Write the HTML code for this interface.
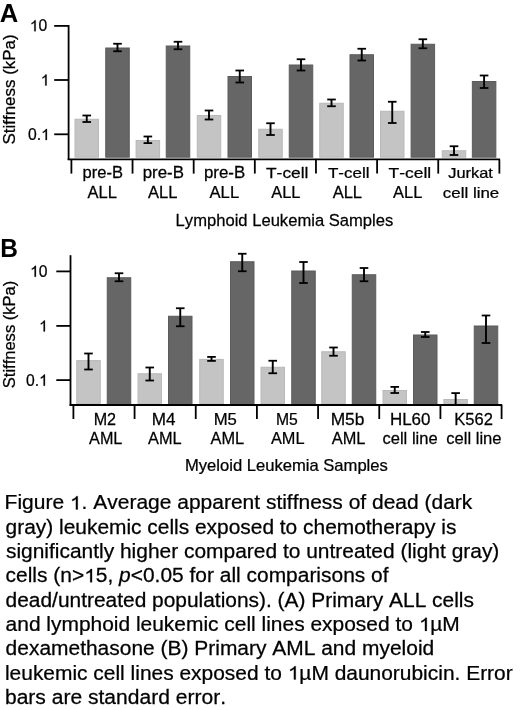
<!DOCTYPE html>
<html><head><meta charset="utf-8"><style>
html,body{margin:0;padding:0;background:#fff;}
svg{display:block;will-change:transform;}
text{font-family:"Liberation Sans",sans-serif;fill:#000;stroke:#000;stroke-width:0.25px;font-kerning:none;}
.h{fill-opacity:0;stroke-opacity:0;}
</style></head><body>
<svg width="520" height="710" viewBox="0 0 520 710">
<defs><path id="one" d="M763 0H583V1102Q518 1043 412 983Q307 923 223 894V1061Q374 1129 480 1220Q587 1311 633 1409H763Z" fill="#000" stroke="#000" stroke-width="0.25" vector-effect="non-scaling-stroke"/></defs>
<rect x="75.00" y="119.25" width="23.50" height="37.95" fill="#c4c4c4" stroke="#b9b9b9" stroke-width="1"/>
<rect x="105.75" y="48.00" width="23.50" height="109.20" fill="#666666" stroke="#5b5b5b" stroke-width="1"/>
<rect x="136.10" y="140.50" width="23.50" height="16.70" fill="#c4c4c4" stroke="#b9b9b9" stroke-width="1"/>
<rect x="166.25" y="46.00" width="23.50" height="111.20" fill="#666666" stroke="#5b5b5b" stroke-width="1"/>
<rect x="197.25" y="115.50" width="23.50" height="41.70" fill="#c4c4c4" stroke="#b9b9b9" stroke-width="1"/>
<rect x="228.00" y="76.50" width="23.50" height="80.70" fill="#666666" stroke="#5b5b5b" stroke-width="1"/>
<rect x="258.75" y="129.25" width="23.50" height="27.95" fill="#c4c4c4" stroke="#b9b9b9" stroke-width="1"/>
<rect x="289.25" y="65.00" width="23.50" height="92.20" fill="#666666" stroke="#5b5b5b" stroke-width="1"/>
<rect x="319.75" y="103.25" width="23.50" height="53.95" fill="#c4c4c4" stroke="#b9b9b9" stroke-width="1"/>
<rect x="350.00" y="54.75" width="23.50" height="102.45" fill="#666666" stroke="#5b5b5b" stroke-width="1"/>
<rect x="380.50" y="111.25" width="23.50" height="45.95" fill="#c4c4c4" stroke="#b9b9b9" stroke-width="1"/>
<rect x="411.10" y="44.25" width="23.50" height="112.95" fill="#666666" stroke="#5b5b5b" stroke-width="1"/>
<rect x="442.25" y="150.75" width="23.50" height="6.45" fill="#c4c4c4" stroke="#b9b9b9" stroke-width="1"/>
<rect x="472.35" y="81.50" width="23.50" height="75.70" fill="#666666" stroke="#5b5b5b" stroke-width="1"/>
<line x1="86.75" y1="115.50" x2="86.75" y2="122.00" stroke="#000" stroke-width="1.9"/>
<line x1="82.45" y1="115.50" x2="91.05" y2="115.50" stroke="#000" stroke-width="1.8"/>
<line x1="82.45" y1="122.00" x2="91.05" y2="122.00" stroke="#000" stroke-width="1.8"/>
<line x1="117.50" y1="43.75" x2="117.50" y2="51.25" stroke="#000" stroke-width="1.9"/>
<line x1="113.20" y1="43.75" x2="121.80" y2="43.75" stroke="#000" stroke-width="1.8"/>
<line x1="113.20" y1="51.25" x2="121.80" y2="51.25" stroke="#000" stroke-width="1.8"/>
<line x1="147.85" y1="136.50" x2="147.85" y2="143.10" stroke="#000" stroke-width="1.9"/>
<line x1="143.55" y1="136.50" x2="152.15" y2="136.50" stroke="#000" stroke-width="1.8"/>
<line x1="143.55" y1="143.10" x2="152.15" y2="143.10" stroke="#000" stroke-width="1.8"/>
<line x1="178.00" y1="41.75" x2="178.00" y2="49.25" stroke="#000" stroke-width="1.9"/>
<line x1="173.70" y1="41.75" x2="182.30" y2="41.75" stroke="#000" stroke-width="1.8"/>
<line x1="173.70" y1="49.25" x2="182.30" y2="49.25" stroke="#000" stroke-width="1.8"/>
<line x1="209.00" y1="110.50" x2="209.00" y2="119.50" stroke="#000" stroke-width="1.9"/>
<line x1="204.70" y1="110.50" x2="213.30" y2="110.50" stroke="#000" stroke-width="1.8"/>
<line x1="204.70" y1="119.50" x2="213.30" y2="119.50" stroke="#000" stroke-width="1.8"/>
<line x1="239.75" y1="70.50" x2="239.75" y2="82.50" stroke="#000" stroke-width="1.9"/>
<line x1="235.45" y1="70.50" x2="244.05" y2="70.50" stroke="#000" stroke-width="1.8"/>
<line x1="235.45" y1="82.50" x2="244.05" y2="82.50" stroke="#000" stroke-width="1.8"/>
<line x1="270.50" y1="123.25" x2="270.50" y2="135.00" stroke="#000" stroke-width="1.9"/>
<line x1="266.20" y1="123.25" x2="274.80" y2="123.25" stroke="#000" stroke-width="1.8"/>
<line x1="266.20" y1="135.00" x2="274.80" y2="135.00" stroke="#000" stroke-width="1.8"/>
<line x1="301.00" y1="59.25" x2="301.00" y2="70.50" stroke="#000" stroke-width="1.9"/>
<line x1="296.70" y1="59.25" x2="305.30" y2="59.25" stroke="#000" stroke-width="1.8"/>
<line x1="296.70" y1="70.50" x2="305.30" y2="70.50" stroke="#000" stroke-width="1.8"/>
<line x1="331.50" y1="99.50" x2="331.50" y2="106.25" stroke="#000" stroke-width="1.9"/>
<line x1="327.20" y1="99.50" x2="335.80" y2="99.50" stroke="#000" stroke-width="1.8"/>
<line x1="327.20" y1="106.25" x2="335.80" y2="106.25" stroke="#000" stroke-width="1.8"/>
<line x1="361.75" y1="48.75" x2="361.75" y2="60.50" stroke="#000" stroke-width="1.9"/>
<line x1="357.45" y1="48.75" x2="366.05" y2="48.75" stroke="#000" stroke-width="1.8"/>
<line x1="357.45" y1="60.50" x2="366.05" y2="60.50" stroke="#000" stroke-width="1.8"/>
<line x1="392.25" y1="101.75" x2="392.25" y2="123.00" stroke="#000" stroke-width="1.9"/>
<line x1="387.95" y1="101.75" x2="396.55" y2="101.75" stroke="#000" stroke-width="1.8"/>
<line x1="387.95" y1="123.00" x2="396.55" y2="123.00" stroke="#000" stroke-width="1.8"/>
<line x1="422.85" y1="39.25" x2="422.85" y2="48.25" stroke="#000" stroke-width="1.9"/>
<line x1="418.55" y1="39.25" x2="427.15" y2="39.25" stroke="#000" stroke-width="1.8"/>
<line x1="418.55" y1="48.25" x2="427.15" y2="48.25" stroke="#000" stroke-width="1.8"/>
<line x1="454.00" y1="146.25" x2="454.00" y2="155.00" stroke="#000" stroke-width="1.9"/>
<line x1="449.70" y1="146.25" x2="458.30" y2="146.25" stroke="#000" stroke-width="1.8"/>
<line x1="449.70" y1="155.00" x2="458.30" y2="155.00" stroke="#000" stroke-width="1.8"/>
<line x1="484.10" y1="75.50" x2="484.10" y2="88.00" stroke="#000" stroke-width="1.9"/>
<line x1="479.80" y1="75.50" x2="488.40" y2="75.50" stroke="#000" stroke-width="1.8"/>
<line x1="479.80" y1="88.00" x2="488.40" y2="88.00" stroke="#000" stroke-width="1.8"/>
<line x1="68.60" y1="25.00" x2="68.60" y2="160.10" stroke="#000" stroke-width="1.8"/>
<line x1="54.20" y1="25.90" x2="68.60" y2="25.90" stroke="#000" stroke-width="1.8"/>
<line x1="54.20" y1="80.00" x2="68.60" y2="80.00" stroke="#000" stroke-width="1.8"/>
<line x1="54.20" y1="134.30" x2="68.60" y2="134.30" stroke="#000" stroke-width="1.8"/>
<line x1="67.70" y1="159.30" x2="500.00" y2="159.30" stroke="#000" stroke-width="1.8"/>
<line x1="71.40" y1="159.30" x2="71.40" y2="173.60" stroke="#000" stroke-width="1.8"/>
<line x1="132.54" y1="159.30" x2="132.54" y2="173.60" stroke="#000" stroke-width="1.8"/>
<line x1="193.68" y1="159.30" x2="193.68" y2="173.60" stroke="#000" stroke-width="1.8"/>
<line x1="254.82" y1="159.30" x2="254.82" y2="173.60" stroke="#000" stroke-width="1.8"/>
<line x1="315.96" y1="159.30" x2="315.96" y2="173.60" stroke="#000" stroke-width="1.8"/>
<line x1="377.10" y1="159.30" x2="377.10" y2="173.60" stroke="#000" stroke-width="1.8"/>
<line x1="438.24" y1="159.30" x2="438.24" y2="173.60" stroke="#000" stroke-width="1.8"/>
<line x1="499.38" y1="159.30" x2="499.38" y2="173.60" stroke="#000" stroke-width="1.8"/>
<rect x="76.75" y="360.60" width="23.50" height="43.10" fill="#c4c4c4" stroke="#b9b9b9" stroke-width="1"/>
<rect x="107.25" y="277.75" width="23.50" height="125.95" fill="#666666" stroke="#5b5b5b" stroke-width="1"/>
<rect x="138.00" y="373.75" width="23.50" height="29.95" fill="#c4c4c4" stroke="#b9b9b9" stroke-width="1"/>
<rect x="168.50" y="316.25" width="23.50" height="87.45" fill="#666666" stroke="#5b5b5b" stroke-width="1"/>
<rect x="199.75" y="359.40" width="23.50" height="44.30" fill="#c4c4c4" stroke="#b9b9b9" stroke-width="1"/>
<rect x="230.50" y="261.75" width="23.50" height="141.95" fill="#666666" stroke="#5b5b5b" stroke-width="1"/>
<rect x="261.00" y="367.25" width="23.50" height="36.45" fill="#c4c4c4" stroke="#b9b9b9" stroke-width="1"/>
<rect x="291.75" y="271.00" width="23.50" height="132.70" fill="#666666" stroke="#5b5b5b" stroke-width="1"/>
<rect x="321.75" y="351.75" width="23.50" height="51.95" fill="#c4c4c4" stroke="#b9b9b9" stroke-width="1"/>
<rect x="352.25" y="274.75" width="23.50" height="128.95" fill="#666666" stroke="#5b5b5b" stroke-width="1"/>
<rect x="383.00" y="390.50" width="23.50" height="13.20" fill="#c4c4c4" stroke="#b9b9b9" stroke-width="1"/>
<rect x="413.50" y="335.00" width="23.50" height="68.70" fill="#666666" stroke="#5b5b5b" stroke-width="1"/>
<rect x="443.90" y="399.50" width="23.50" height="4.20" fill="#c4c4c4" stroke="#b9b9b9" stroke-width="1"/>
<rect x="474.25" y="326.00" width="23.50" height="77.70" fill="#666666" stroke="#5b5b5b" stroke-width="1"/>
<line x1="88.50" y1="353.50" x2="88.50" y2="369.50" stroke="#000" stroke-width="1.9"/>
<line x1="84.20" y1="353.50" x2="92.80" y2="353.50" stroke="#000" stroke-width="1.8"/>
<line x1="84.20" y1="369.50" x2="92.80" y2="369.50" stroke="#000" stroke-width="1.8"/>
<line x1="119.00" y1="273.25" x2="119.00" y2="281.25" stroke="#000" stroke-width="1.9"/>
<line x1="114.70" y1="273.25" x2="123.30" y2="273.25" stroke="#000" stroke-width="1.8"/>
<line x1="114.70" y1="281.25" x2="123.30" y2="281.25" stroke="#000" stroke-width="1.8"/>
<line x1="149.75" y1="367.50" x2="149.75" y2="380.50" stroke="#000" stroke-width="1.9"/>
<line x1="145.45" y1="367.50" x2="154.05" y2="367.50" stroke="#000" stroke-width="1.8"/>
<line x1="145.45" y1="380.50" x2="154.05" y2="380.50" stroke="#000" stroke-width="1.8"/>
<line x1="180.25" y1="308.25" x2="180.25" y2="326.25" stroke="#000" stroke-width="1.9"/>
<line x1="175.95" y1="308.25" x2="184.55" y2="308.25" stroke="#000" stroke-width="1.8"/>
<line x1="175.95" y1="326.25" x2="184.55" y2="326.25" stroke="#000" stroke-width="1.8"/>
<line x1="211.50" y1="356.90" x2="211.50" y2="360.90" stroke="#000" stroke-width="1.9"/>
<line x1="207.20" y1="356.90" x2="215.80" y2="356.90" stroke="#000" stroke-width="1.8"/>
<line x1="207.20" y1="360.90" x2="215.80" y2="360.90" stroke="#000" stroke-width="1.8"/>
<line x1="242.25" y1="253.75" x2="242.25" y2="271.25" stroke="#000" stroke-width="1.9"/>
<line x1="237.95" y1="253.75" x2="246.55" y2="253.75" stroke="#000" stroke-width="1.8"/>
<line x1="237.95" y1="271.25" x2="246.55" y2="271.25" stroke="#000" stroke-width="1.8"/>
<line x1="272.75" y1="360.75" x2="272.75" y2="373.25" stroke="#000" stroke-width="1.9"/>
<line x1="268.45" y1="360.75" x2="277.05" y2="360.75" stroke="#000" stroke-width="1.8"/>
<line x1="268.45" y1="373.25" x2="277.05" y2="373.25" stroke="#000" stroke-width="1.8"/>
<line x1="303.50" y1="262.00" x2="303.50" y2="283.00" stroke="#000" stroke-width="1.9"/>
<line x1="299.20" y1="262.00" x2="307.80" y2="262.00" stroke="#000" stroke-width="1.8"/>
<line x1="299.20" y1="283.00" x2="307.80" y2="283.00" stroke="#000" stroke-width="1.8"/>
<line x1="333.50" y1="347.50" x2="333.50" y2="355.75" stroke="#000" stroke-width="1.9"/>
<line x1="329.20" y1="347.50" x2="337.80" y2="347.50" stroke="#000" stroke-width="1.8"/>
<line x1="329.20" y1="355.75" x2="337.80" y2="355.75" stroke="#000" stroke-width="1.8"/>
<line x1="364.00" y1="268.00" x2="364.00" y2="281.25" stroke="#000" stroke-width="1.9"/>
<line x1="359.70" y1="268.00" x2="368.30" y2="268.00" stroke="#000" stroke-width="1.8"/>
<line x1="359.70" y1="281.25" x2="368.30" y2="281.25" stroke="#000" stroke-width="1.8"/>
<line x1="394.75" y1="386.90" x2="394.75" y2="393.00" stroke="#000" stroke-width="1.9"/>
<line x1="390.45" y1="386.90" x2="399.05" y2="386.90" stroke="#000" stroke-width="1.8"/>
<line x1="390.45" y1="393.00" x2="399.05" y2="393.00" stroke="#000" stroke-width="1.8"/>
<line x1="425.25" y1="332.00" x2="425.25" y2="337.00" stroke="#000" stroke-width="1.9"/>
<line x1="420.95" y1="332.00" x2="429.55" y2="332.00" stroke="#000" stroke-width="1.8"/>
<line x1="420.95" y1="337.00" x2="429.55" y2="337.00" stroke="#000" stroke-width="1.8"/>
<line x1="455.65" y1="393.10" x2="455.65" y2="404.20" stroke="#000" stroke-width="1.9"/>
<line x1="451.35" y1="393.10" x2="459.95" y2="393.10" stroke="#000" stroke-width="1.8"/>
<line x1="486.00" y1="315.50" x2="486.00" y2="343.00" stroke="#000" stroke-width="1.9"/>
<line x1="481.70" y1="315.50" x2="490.30" y2="315.50" stroke="#000" stroke-width="1.8"/>
<line x1="481.70" y1="343.00" x2="490.30" y2="343.00" stroke="#000" stroke-width="1.8"/>
<line x1="70.50" y1="255.20" x2="70.50" y2="405.90" stroke="#000" stroke-width="1.8"/>
<line x1="56.30" y1="271.40" x2="70.50" y2="271.40" stroke="#000" stroke-width="1.8"/>
<line x1="56.30" y1="325.90" x2="70.50" y2="325.90" stroke="#000" stroke-width="1.8"/>
<line x1="56.30" y1="380.10" x2="70.50" y2="380.10" stroke="#000" stroke-width="1.8"/>
<line x1="69.60" y1="405.00" x2="502.20" y2="405.00" stroke="#000" stroke-width="1.8"/>
<line x1="73.40" y1="405.00" x2="73.40" y2="419.00" stroke="#000" stroke-width="1.8"/>
<line x1="134.57" y1="405.00" x2="134.57" y2="419.00" stroke="#000" stroke-width="1.8"/>
<line x1="195.74" y1="405.00" x2="195.74" y2="419.00" stroke="#000" stroke-width="1.8"/>
<line x1="256.91" y1="405.00" x2="256.91" y2="419.00" stroke="#000" stroke-width="1.8"/>
<line x1="318.08" y1="405.00" x2="318.08" y2="419.00" stroke="#000" stroke-width="1.8"/>
<line x1="379.25" y1="405.00" x2="379.25" y2="419.00" stroke="#000" stroke-width="1.8"/>
<line x1="440.42" y1="405.00" x2="440.42" y2="419.00" stroke="#000" stroke-width="1.8"/>
<line x1="501.59" y1="405.00" x2="501.59" y2="419.00" stroke="#000" stroke-width="1.8"/>
<text transform="translate(-0.20,22.15) scale(0.9809,1)" font-size="26.10" font-weight="bold" style="stroke-width:0">A</text>
<text transform="translate(82.47,177.50) scale(1.0581,1)" font-size="15.64" font-weight="normal">pre-B</text>
<text transform="translate(87.50,197.75) scale(1.0424,1)" font-size="15.86" font-weight="normal">ALL</text>
<text transform="translate(142.70,177.50) scale(1.0786,1)" font-size="15.64" font-weight="normal">pre-B</text>
<text transform="translate(148.00,197.75) scale(1.0424,1)" font-size="15.86" font-weight="normal">ALL</text>
<text transform="translate(203.95,177.50) scale(1.0786,1)" font-size="15.64" font-weight="normal">pre-B</text>
<text transform="translate(209.50,197.75) scale(1.0514,1)" font-size="15.86" font-weight="normal">ALL</text>
<text transform="translate(266.03,177.50) scale(1.1572,1)" font-size="14.98" font-weight="normal">T-cell</text>
<text transform="translate(271.25,197.75) scale(1.0334,1)" font-size="15.86" font-weight="normal">ALL</text>
<text transform="translate(327.98,177.50) scale(1.1355,1)" font-size="14.98" font-weight="normal">T-cell</text>
<text transform="translate(332.63,197.75) scale(1.0424,1)" font-size="15.86" font-weight="normal">ALL</text>
<text transform="translate(388.48,177.50) scale(1.1674,1)" font-size="14.98" font-weight="normal">T-cell</text>
<text transform="translate(393.00,197.75) scale(1.0388,1)" font-size="15.86" font-weight="normal">ALL</text>
<text transform="translate(448.24,177.50) scale(1.0959,1)" font-size="14.98" font-weight="normal">Jurkat</text>
<text transform="translate(442.87,197.75) scale(1.1141,1)" font-size="15.18" font-weight="normal">cell line</text>
<text transform="translate(175.60,225.90) scale(0.9678,1)" font-size="17.16" font-weight="normal">Lymphoid Leukemia Samples</text>
<text transform="translate(0.22,257.20) scale(0.9510,1)" font-size="25.74" font-weight="bold" style="stroke-width:0">B</text>
<text transform="translate(93.69,424.60) scale(0.9697,1)" font-size="16.64" font-weight="normal">M2</text>
<text transform="translate(89.10,444.40) scale(0.9678,1)" font-size="16.71" font-weight="normal">AML</text>
<text transform="translate(151.66,424.60) scale(1.0280,1)" font-size="16.64" font-weight="normal">M4</text>
<text transform="translate(148.00,444.40) scale(0.9795,1)" font-size="16.71" font-weight="normal">AML</text>
<text transform="translate(213.69,424.60) scale(1.0051,1)" font-size="16.64" font-weight="normal">M5</text>
<text transform="translate(210.50,444.40) scale(0.9795,1)" font-size="16.71" font-weight="normal">AML</text>
<text transform="translate(275.97,424.60) scale(0.9460,1)" font-size="16.64" font-weight="normal">M5</text>
<text transform="translate(270.89,444.40) scale(0.9781,1)" font-size="16.71" font-weight="normal">AML</text>
<text transform="translate(330.64,424.60) scale(1.0910,1)" font-size="15.93" font-weight="normal">M5b</text>
<text transform="translate(331.75,444.40) scale(0.9795,1)" font-size="16.71" font-weight="normal">AML</text>
<text transform="translate(389.93,424.60) scale(1.0180,1)" font-size="16.64" font-weight="normal">HL60</text>
<text transform="translate(382.48,444.40) scale(1.0343,1)" font-size="16.00" font-weight="normal">cell line</text>
<text transform="translate(454.31,424.60) scale(0.9949,1)" font-size="16.64" font-weight="normal">K562</text>
<text transform="translate(446.28,444.40) scale(1.0362,1)" font-size="16.00" font-weight="normal">cell line</text>
<text transform="translate(185.00,471.00) scale(1.0511,1)" font-size="15.80" font-weight="normal">Myeloid Leukemia Samples</text>
<text transform="translate(29.84,31.32) scale(0.9700,1)" font-size="16.20"><tspan class="h">1</tspan>0</text>
<use href="#one" transform="translate(29.84,31.32) scale(0.00767,-0.00791)"/>
<text transform="translate(40.75,85.57) scale(0.9700,1)" font-size="16.20"><tspan class="h">1</tspan></text>
<use href="#one" transform="translate(40.75,85.57) scale(0.00767,-0.00791)"/>
<text transform="translate(27.99,140.07) scale(0.9700,1)" font-size="16.20">0.<tspan class="h">1</tspan></text>
<use href="#one" transform="translate(41.10,140.07) scale(0.00767,-0.00791)"/>
<text transform="translate(30.09,276.87) scale(0.9700,1)" font-size="16.20"><tspan class="h">1</tspan>0</text>
<use href="#one" transform="translate(30.09,276.87) scale(0.00767,-0.00791)"/>
<text transform="translate(39.10,331.57) scale(0.9700,1)" font-size="16.20"><tspan class="h">1</tspan></text>
<use href="#one" transform="translate(39.10,331.57) scale(0.00767,-0.00791)"/>
<text transform="translate(25.99,385.67) scale(0.9700,1)" font-size="16.20">0.<tspan class="h">1</tspan></text>
<use href="#one" transform="translate(39.10,385.67) scale(0.00767,-0.00791)"/>
<text transform="translate(15.26,144.43) rotate(-90) scale(1.0761,1)" font-size="15.74">Stiffness (kPa)</text>
<text transform="translate(15.26,388.22) rotate(-90) scale(1.0513,1)" font-size="15.74">Stiffness (kPa)</text>
<text transform="translate(4.61,509.40) scale(1.0874,1)" font-size="19.3">Figure <tspan class="h">1</tspan>. Average apparent stiffness of dead (dark</text>
<use href="#one" transform="translate(69.93,509.40) scale(0.01025,-0.00942)"/>
<text transform="translate(5.60,533.70) scale(1.0843,1)" font-size="19.3">gray) leukemic cells exposed to chemotherapy is</text>
<text transform="translate(5.92,558.00) scale(1.0859,1)" font-size="19.3">significantly higher compared to untreated (light gray)</text>
<text transform="translate(5.59,582.30) scale(1.0861,1)" font-size="19.3">cells (n&gt;<tspan class="h">1</tspan>5, <tspan font-style="italic">p</tspan>&lt;0.05 for all comparisons of</text>
<use href="#one" transform="translate(84.23,582.30) scale(0.01024,-0.00942)"/>
<text transform="translate(5.60,606.60) scale(1.0844,1)" font-size="19.3">dead/untreated populations). (A) Primary ALL cells</text>
<text transform="translate(5.60,630.90) scale(1.0855,1)" font-size="19.3">and lymphoid leukemic cell lines exposed to <tspan class="h">1</tspan>µM</text>
<use href="#one" transform="translate(418.99,630.90) scale(0.01023,-0.00942)"/>
<text transform="translate(5.59,655.20) scale(1.0864,1)" font-size="19.3">dexamethasone (B) Primary AML and myeloid</text>
<text transform="translate(4.94,679.50) scale(1.0856,1)" font-size="19.3">leukemic cell lines exposed to <tspan class="h">1</tspan>µM daunorubicin. Error</text>
<use href="#one" transform="translate(287.93,679.50) scale(0.01023,-0.00942)"/>
<text transform="translate(4.93,703.80) scale(1.0907,1)" font-size="19.3">bars are standard error.</text>
</svg>
</body></html>
